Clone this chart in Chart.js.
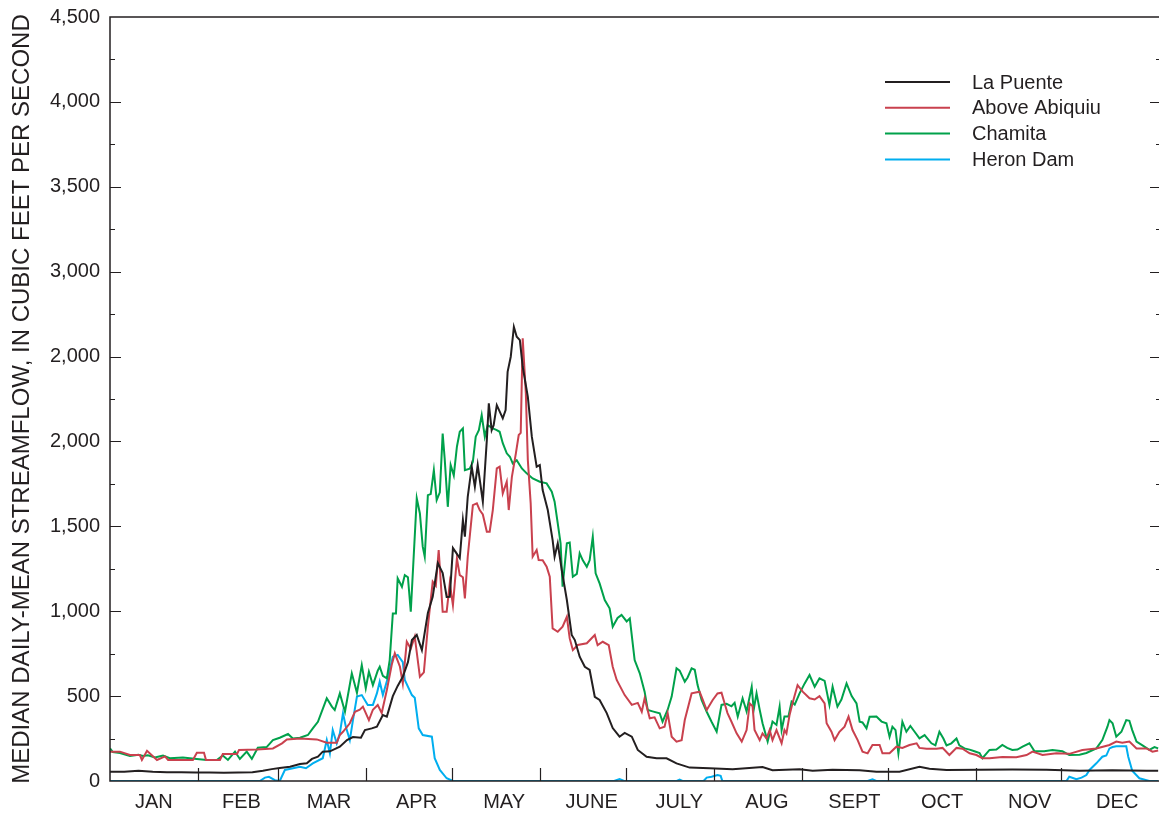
<!DOCTYPE html>
<html>
<head>
<meta charset="utf-8">
<script src="https://cdn.jsdelivr.net/npm/chart.js@4.4.0/dist/chart.umd.min.js"></script>
<style>
  html, body { margin: 0; padding: 0; overflow: hidden; background: #fff; }
  canvas { display: block; }
</style>
</head>
<body>
<canvas id="flowChart" width="1162" height="814"></canvas>
<script>
// axis labels
const months = ["JAN", "FEB", "MAR", "APR", "MAY", "JUNE", "JULY", "AUG", "SEPT", "OCT", "NOV", "DEC"];
const monthStartDays = [0, 31, 59, 90, 120, 151, 181, 212, 243, 273, 304, 334];
const yTickValues = [0, 500, 1000, 1500, 2000, 2500, 3000, 3500, 4000, 4500];
const yTickLabels = ["0", "500", "1,000", "1,500", "2,000", "2,000", "3,000", "3,500", "4,000", "4,500"];

// La Puente
const laPuenteDays = [0, 5, 10, 15, 20, 25, 30, 35, 40, 45, 50, 53.7, 56.8, 59.6, 63.2, 66.7, 69.1, 70.9, 73, 74.7, 77.2, 80.7, 83.2, 85.3, 88.1, 89.5, 91.9, 93.7, 95.8, 97.2, 99.3, 101, 102.8, 104.6, 106, 107.7, 109.5, 111.6, 113.3, 115.1, 116.8, 118.2, 119.3, 120.4, 122.8, 123.9, 124.6, 125.6, 127, 128.1, 129.1, 130.9, 132.3, 133, 134, 134.7, 135.8, 137.9, 138.9, 139.6, 140.7, 141.8, 142.8, 143.9, 144.9, 146.7, 148.1, 149.8, 150.9, 151.9, 153.7, 155.4, 156.1, 157.2, 158.6, 160.4, 162.1, 163.2, 164.9, 166.7, 168.4, 170.2, 171.9, 174.4, 176.5, 178.9, 180.7, 183.2, 185.3, 188.4, 191.9, 195.4, 198.9, 203.5, 210.5, 218.6, 229.1, 232.6, 242.1, 246.7, 253.7, 263.2, 269.1, 277.2, 284.2, 287.7, 293.7, 305.3, 316.8, 328.8, 340.4, 351.9, 363.9, 368];
const laPuenteFlow = [55, 55, 60, 55, 52, 52, 50, 50, 48, 50, 52, 60, 70, 76, 84, 100, 104, 130, 143, 173, 175, 202, 241, 259, 255, 300, 310, 320, 389, 379, 500, 560, 614, 700, 830, 860, 771, 989, 1085, 1284, 1225, 1084, 1085, 1372, 1313, 1537, 1439, 1674, 1851, 1733, 1861, 1645, 2008, 2224, 2067, 2096, 2214, 2136, 2185, 2410, 2499, 2675, 2617, 2597, 2440, 2263, 2028, 1851, 1861, 1714, 1596, 1419, 1321, 1400, 1243, 1066, 860, 830, 732, 673, 654, 496, 477, 400, 312, 261, 283, 261, 183, 143, 134, 134, 104, 79, 75, 69, 82, 64, 69, 61, 66, 64, 55, 55, 84, 72, 65, 66, 68, 66, 61, 64, 61, 60];

// Above Abiquiu
const abiquiuDays = [0, 3.5, 7, 10.5, 11.2, 13, 16.5, 19.3, 20.4, 29.1, 30.5, 33, 33.7, 38.6, 39.6, 44.6, 45.3, 51.6, 57.2, 60.4, 62.1, 66.7, 72.6, 76.1, 79.6, 80.7, 81.8, 84.2, 86, 87.7, 88.8, 90.9, 92.3, 94, 95.4, 97.2, 98.9, 100, 101.8, 102.8, 104.2, 105.6, 107, 108.8, 110.2, 111.6, 113.3, 114.4, 115.4, 116.1, 116.8, 118.2, 119.3, 120.4, 121.8, 122.8, 123.9, 124.6, 125.6, 127.4, 128.8, 129.8, 130.9, 132.3, 133.3, 134.4, 135.8, 136.8, 137.9, 139.3, 140, 141.1, 142.5, 143.5, 144.2, 144.9, 146, 146.7, 147.7, 148.4, 149.8, 150.5, 151.9, 153.3, 154.4, 155.4, 157.2, 158.9, 160.4, 161.4, 162.5, 164.2, 167.4, 170.2, 171.2, 173, 175.1, 176.5, 177.9, 180.7, 183.2, 185.3, 186.7, 187.7, 189.5, 191.2, 193, 194.7, 195.8, 197.2, 198.9, 200.7, 201.8, 204.2, 207, 208.1, 209.5, 211.6, 213.3, 214.7, 215.8, 216.8, 218.2, 220, 221.8, 223.5, 224.6, 225.6, 226.3, 228.1, 229.1, 230.5, 231.6, 232.6, 234, 235.8, 236.8, 237.5, 238.6, 239.6, 241.4, 243.2, 245.6, 247.4, 249.1, 250.9, 251.6, 253.3, 254.4, 256.1, 257.9, 259.3, 260.7, 262.5, 264.2, 266, 267.7, 270.2, 271.2, 273.7, 276.1, 278.2, 280.7, 283.2, 284.2, 286.7, 290.2, 292.3, 294.7, 297.2, 299.3, 301.8, 304.2, 306.3, 308.8, 313.3, 318.2, 321.8, 323.9, 327.4, 332.3, 336.8, 341.4, 346.3, 350.9, 353.3, 355.4, 357.9, 360.4, 363.9, 366, 368];
const abiquiuFlow = [173, 173, 153, 153, 124, 178, 124, 145, 124, 124, 167, 167, 124, 124, 159, 159, 183, 185, 192, 222, 245, 251, 245, 226, 226, 271, 290, 340, 408, 420, 438, 359, 420, 448, 400, 536, 683, 752, 673, 575, 820, 780, 850, 614, 640, 909, 1174, 1150, 1360, 1180, 997, 997, 1166, 1036, 1311, 1213, 1200, 1076, 1321, 1625, 1635, 1596, 1570, 1468, 1468, 1596, 1841, 1851, 1694, 1763, 1596, 1792, 1930, 2038, 2050, 2607, 2283, 1890, 1635, 1321, 1360, 1301, 1300, 1262, 1203, 899, 879, 909, 967, 840, 771, 801, 811, 860, 800, 820, 800, 673, 595, 506, 448, 460, 408, 487, 369, 375, 310, 320, 399, 261, 232, 240, 359, 516, 526, 480, 418, 477, 516, 520, 457, 400, 349, 281, 232, 300, 457, 440, 300, 241, 280, 250, 300, 241, 300, 222, 300, 280, 389, 457, 565, 526, 487, 480, 500, 457, 340, 290, 241, 290, 320, 379, 300, 241, 173, 163, 212, 212, 163, 163, 202, 195, 212, 222, 195, 190, 190, 195, 153, 195, 190, 163, 153, 134, 134, 142, 140, 153, 173, 153, 163, 160, 183, 192, 212, 232, 225, 232, 192, 192, 173, 180];

// Chamita
const chamitaDays = [0, 1, 3.5, 7, 10, 11.6, 13.3, 15.8, 18.6, 21, 25.6, 30.5, 34, 37.5, 39.6, 41.4, 43.9, 45.6, 48, 49.8, 51.9, 55, 57.2, 59.6, 62.5, 64.2, 66.7, 69.5, 71.2, 73, 76.1, 77.9, 78.9, 80.7, 82.5, 84.9, 86.7, 88.4, 89.8, 90.9, 92.3, 94, 94.7, 95.8, 97.2, 98.2, 99.3, 100.4, 101, 102.5, 103.5, 104.6, 105.6, 107.7, 108.8, 109.8, 110.5, 111.6, 112.6, 113.7, 114.7, 115.8, 116.8, 117.5, 118.6, 119.6, 120.7, 121.8, 122.8, 123.9, 124.6, 126.3, 127.4, 128.4, 129.5, 130.5, 131.6, 132.6, 134.4, 135.8, 136.8, 137.9, 139.3, 140.4, 141.4, 142.8, 144.6, 146.3, 148.4, 150.9, 153.3, 155.1, 156.1, 157.2, 158.2, 158.9, 160.4, 161.4, 162.5, 163.9, 164.9, 166, 167.4, 168.4, 169.5, 170.5, 171.9, 173.7, 175.4, 176.5, 178.2, 179.6, 181.4, 182.5, 184.2, 186, 187.7, 188.8, 190.5, 193, 194, 195.8, 197.2, 198.9, 200, 201.8, 202.8, 204.2, 205.3, 206.3, 207.7, 209.5, 211.2, 213, 214.7, 216.5, 218.2, 219.3, 220.4, 222.1, 223.5, 225.3, 226, 227, 228.1, 229.1, 230.9, 232.6, 234, 235.1, 235.8, 236.8, 238.2, 239.3, 240.4, 242.1, 243.9, 245.6, 247.4, 249.1, 250.9, 252.6, 253.7, 255.4, 256.8, 258.6, 260.4, 262.1, 263.2, 264.2, 265.6, 266.7, 269.1, 270.9, 272.6, 273.7, 274.7, 275.8, 276.8, 278.2, 279.6, 281, 282.5, 284.2, 286, 288.4, 289.8, 291.2, 292.6, 293.7, 295.4, 297.2, 298.2, 300, 301.8, 303.5, 305.3, 306.3, 308.8, 311.2, 313.3, 315, 316.8, 318.6, 320.4, 322.8, 324.6, 328, 330.9, 334.4, 336.8, 340.4, 342.8, 346.3, 348.4, 350.2, 350.9, 352, 353.3, 355.1, 356.8, 357.9, 358.9, 360.4, 362.5, 364.9, 366.7, 368];
const chamitaFlow = [192, 170, 165, 147, 155, 147, 152, 138, 150, 134, 138, 130, 124, 124, 150, 124, 173, 130, 173, 130, 196, 200, 241, 255, 277, 250, 255, 271, 310, 349, 487, 438, 418, 516, 408, 634, 520, 683, 546, 644, 565, 650, 673, 620, 605, 712, 987, 987, 1194, 1144, 1213, 1200, 997, 1665, 1576, 1380, 1321, 1684, 1690, 1831, 1655, 1700, 2047, 1900, 1615, 1861, 1800, 1969, 2057, 2077, 1831, 1840, 1880, 2028, 2067, 2155, 2028, 2096, 2077, 2067, 2057, 1990, 1930, 1910, 1871, 1890, 1841, 1812, 1782, 1763, 1753, 1704, 1645, 1518, 1400, 1144, 1400, 1405, 1203, 1220, 1341, 1300, 1262, 1300, 1439, 1223, 1164, 1066, 1017, 909, 960, 978, 940, 958, 712, 634, 526, 418, 410, 399, 349, 420, 497, 664, 650, 585, 610, 664, 655, 565, 477, 408, 349, 290, 448, 455, 440, 460, 379, 487, 410, 555, 420, 516, 420, 340, 232, 350, 330, 438, 300, 380, 380, 467, 450, 516, 575, 624, 555, 605, 590, 448, 555, 438, 480, 575, 500, 457, 349, 345, 310, 379, 380, 350, 340, 261, 320, 300, 163, 349, 290, 324, 290, 251, 270, 222, 210, 290, 250, 210, 222, 250, 210, 192, 185, 175, 165, 134, 183, 185, 212, 195, 183, 185, 202, 222, 175, 175, 183, 175, 153, 155, 165, 192, 241, 320, 359, 340, 261, 290, 359, 355, 300, 232, 210, 183, 200, 192];

// Heron Dam
const heronDays = [0, 52.6, 54.4, 55.8, 57.9, 59.6, 61.4, 66.7, 68.8, 71.2, 74.7, 76.1, 77.2, 78.2, 79.6, 80.7, 81.8, 82.8, 84.2, 85.3, 86.7, 88.4, 90.5, 92.3, 93.7, 94.7, 95.8, 97.5, 99.3, 101, 102.8, 103.5, 106, 107, 108.4, 109.8, 113, 114, 115.8, 118.2, 120.4, 177, 178.9, 180.5, 199, 200, 201, 208.4, 209.5, 211.2, 213.3, 214.4, 215, 266, 267.7, 269, 335.8, 336.8, 339.3, 341.1, 342.8, 343.9, 346.3, 348.4, 349.8, 350.9, 352, 353.3, 356.8, 357.5, 358.9, 361.4, 363.9, 364.9, 368];
const heronFlow = [0, 0, 20, 25, 5, 0, 65, 84, 75, 104, 134, 241, 163, 300, 222, 281, 399, 320, 241, 359, 497, 506, 448, 448, 516, 585, 506, 605, 732, 742, 700, 595, 506, 490, 310, 271, 261, 134, 65, 16, 0, 0, 12, 0, 0, 8, 0, 0, 20, 25, 35, 30, 0, 0, 10, 0, 0, 25, 10, 20, 35, 65, 104, 143, 150, 192, 200, 205, 205, 143, 60, 16, 5, 0, 0];

const inkColor = "#231f20";
Chart.defaults.font.family = "'Liberation Sans', Arial, sans-serif";
Chart.defaults.color = inkColor;

const toPoints = (days, flow) => days.map((d, i) => ({ x: d, y: flow[i] }));

const makeLine = (label, days, flow, color) => ({
  label: label,
  data: toPoints(days, flow),
  borderColor: color,
  backgroundColor: color,
  borderWidth: 2,
  pointRadius: 0,
  tension: 0,
  fill: false,
});

//khung va vach chia
const framePlugin = {
  id: "frame",
  afterDatasetsDraw(chart) {
    const { ctx, chartArea: a, scales } = chart;
    const x = scales.x;
    const y = scales.y;
    ctx.save();
    ctx.strokeStyle = inkColor;
    ctx.lineWidth = 1.5;
    ctx.strokeRect(a.left, a.top, a.right - a.left, a.bottom - a.top);
    ctx.lineWidth = 1.2;
    ctx.beginPath();
    for (let v = 250; v < 4500; v += 250) {
      const py = Math.round(y.getPixelForValue(v)) + 0.5;
      const len = v % 500 === 0 ? 11 : 5;
      ctx.moveTo(a.left, py);
      ctx.lineTo(a.left + len, py);
      ctx.moveTo(a.right, py);
      ctx.lineTo(a.right - len, py);
    }
    monthStartDays.slice(1).forEach((d) => {
      const px = Math.round(x.getPixelForValue(d)) + 0.5;
      ctx.moveTo(px, a.bottom);
      ctx.lineTo(px, a.bottom - 13);
    });
    ctx.stroke();
    ctx.restore();
  },
};

//chu thich
const legendPlugin = {
  id: "boxLegend",
  afterDraw(chart) {
    const { ctx } = chart;
    ctx.save();
    ctx.font = "20px 'Liberation Sans', Arial, sans-serif";
    ctx.textBaseline = "middle";
    ctx.textAlign = "left";
    chart.data.datasets.forEach((ds, i) => {
      const rowY = 82 + i * 25.8;
      ctx.strokeStyle = ds.borderColor;
      ctx.lineWidth = 2;
      ctx.beginPath();
      ctx.moveTo(885, rowY);
      ctx.lineTo(950, rowY);
      ctx.stroke();
      ctx.fillStyle = inkColor;
      ctx.fillText(ds.label, 972, rowY + 1);
    });
    ctx.restore();
  },
};

new Chart("flowChart", {
  type: "line",
  data: {
    datasets: [
      makeLine("La Puente", laPuenteDays, laPuenteFlow, "#231f20"),
      makeLine("Above Abiquiu", abiquiuDays, abiquiuFlow, "#c9414e"),
      makeLine("Chamita", chamitaDays, chamitaFlow, "#00a14b"),
      makeLine("Heron Dam", heronDays, heronFlow, "#00aeef"),
    ],
  },
  options: {
    responsive: false,
    animation: false,
    devicePixelRatio: 1,
    layout: { padding: { top: 17, right: 1, bottom: 0, left: 0 } },
    plugins: {
      legend: { display: false },
      tooltip: { enabled: false },
    },
    scales: {
      x: {
        type: "linear",
        min: 0,
        max: 369,
        grid: { display: false, drawTicks: false },
        border: { display: false },
        afterBuildTicks: (scale) => {
          scale.ticks = months.map((m, i) => ({ value: ((i + 0.5) * 369) / 12 }));
        },
        afterFit: (scale) => {
          scale.height = 33;
          scale.paddingLeft = 0;
          scale.paddingRight = 0;
        },
        ticks: {
          autoSkip: false,
          maxRotation: 0,
          padding: 9,
          font: { size: 20 },
          callback: (v, i) => months[i],
        },
      },
      y: {
        min: 0,
        max: 4500,
        grid: { display: false, drawTicks: false },
        border: { display: false },
        afterBuildTicks: (scale) => {
          scale.ticks = yTickValues.map((v) => ({ value: v }));
        },
        afterFit: (scale) => {
          scale.width = 110;
          scale.paddingTop = 0;
          scale.paddingBottom = 0;
        },
        ticks: {
          padding: 10,
          font: { size: 20 },
          callback: (v, i) => yTickLabels[i],
        },
        title: {
          display: true,
          text: "MEDIAN DAILY-MEAN STREAMFLOW, IN CUBIC FEET PER SECOND",
          font: { size: 24 },
          padding: { top: 8, bottom: 0 },
        },
      },
    },
  },
  plugins: [framePlugin, legendPlugin],
});
</script>
</body>
</html>
